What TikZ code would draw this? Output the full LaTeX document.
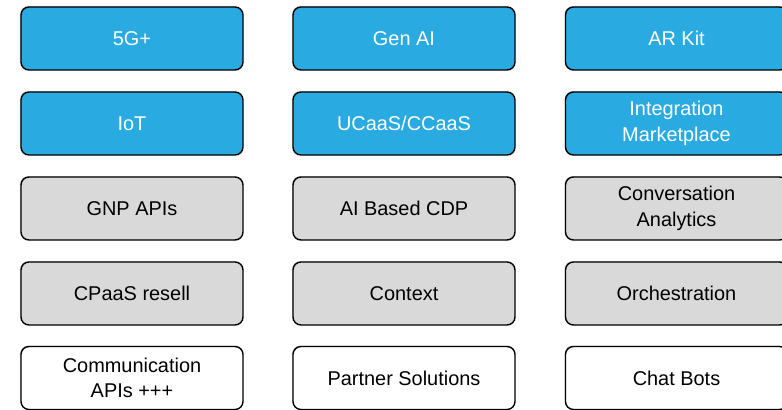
\documentclass[tikz,border=0pt]{standalone}
\usepackage{fontspec}
\setmainfont{Liberation Sans}
\usepackage{tikz}
\usetikzlibrary{shapes,positioning,shadows}
\definecolor{tileblue}{RGB}{41,171,226}
\definecolor{tilegray}{RGB}{217,217,217}
\begin{document}
\begin{tikzpicture}
  [
    x=1bp, y=1bp,
    Tile/.style={rectangle, rounded corners=8bp, draw=black, line width=1.4bp,
      minimum width=222bp, minimum height=63bp, inner sep=0pt, align=center,
      font=\fontsize{20}{25.5}\selectfont,
      drop shadow={shadow xshift=-1bp, shadow yshift=1bp, opacity=0.3}},
    Blue/.style={Tile, fill=tileblue, text=white},
    Gray/.style={Tile, fill=tilegray, text=black},
    White/.style={Tile, fill=white, text=black}
  ]
  \useasboundingbox (0, 0) rectangle (782, 409);
  \clip (0, 0) rectangle (782, 409);
  % Nodes
  \node[Blue] (fiveg) at(132, 370.5) {5G+};
  \node[Blue] (genai) at(404, 370.5) {Gen AI};
  \node[Blue] (arkit) at(676.5, 370.5) {AR Kit};
  \node[Blue] (iot) at(132, 285.5) {IoT};
  \node[Blue] (ucaas) at(404, 285.5) {UCaaS/CCaaS};
  \node[Blue] (market) at(676.5, 285.5) {Integration\\Marketplace};
  \node[Gray] (gnp) at(132, 200.5) {GNP APIs};
  \node[Gray] (cdp) at(404, 200.5) {AI Based CDP};
  \node[Gray] (convan) at(676.5, 200.5) {Conversation\\Analytics};
  \node[Gray] (cpaas) at(132, 115.5) {CPaaS resell};
  \node[Gray] (context) at(404, 115.5) {Context};
  \node[Gray] (orch) at(676.5, 115.5) {Orchestration};
  \node[White] (commapi) at(132, 31) {Communication\\APIs +++};
  \node[White] (partner) at(404, 31) {Partner Solutions};
  \node[White] (chatbot) at(676.5, 31) {Chat Bots};
\end{tikzpicture}
\end{document}
